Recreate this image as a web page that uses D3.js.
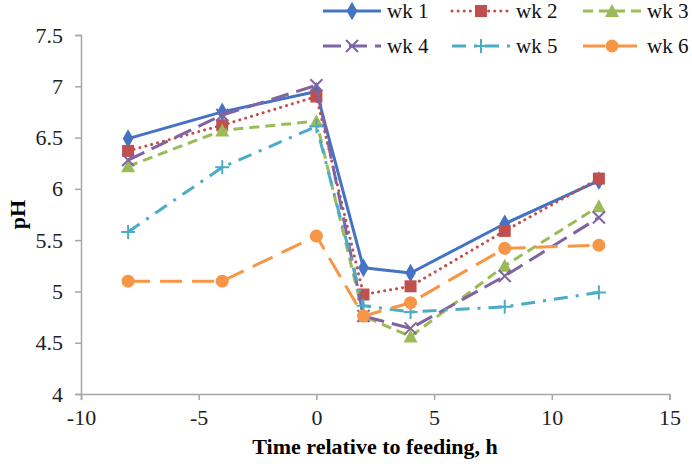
<!DOCTYPE html>
<html><head><meta charset="utf-8">
<script src="https://cdn.jsdelivr.net/npm/d3@7"></script>
<style>body{margin:0;background:#fff;} svg{display:block;}</style>
</head><body>
<svg id="c" width="692" height="464"></svg>
<script>
const times = [-8, -4, 0, 2, 4, 8, 12];
const seriesNames = ["wk 1", "wk 2", "wk 3", "wk 4", "wk 5", "wk 6"];
const wk1 = [6.49, 6.75, 6.95, 5.23, 5.18, 5.66, 6.08];
const wk2 = [6.37, 6.62, 6.90, 4.97, 5.05, 5.59, 6.10];
const wk3 = [6.22, 6.57, 6.66, 4.76, 4.56, 5.25, 5.83];
const wk4 = [6.28, 6.72, 7.01, 4.76, 4.64, 5.15, 5.72];
const wk5 = [5.58, 6.21, 6.61, 4.86, 4.80, 4.85, 4.99];
const wk6 = [5.10, 5.10, 5.54, 4.76, 4.89, 5.42, 5.45];
const xTicks = [-10, -5, 0, 5, 10, 15];
const yTicks = [4, 4.5, 5, 5.5, 6, 6.5, 7, 7.5];

const styles = [
  {color:"#4472C4", dash:null, marker:"diamond", cap:"butt"},
  {color:"#C0504D", dash:"0.1 6", marker:"square", cap:"round"},
  {color:"#9BBB59", dash:"10 6", marker:"triangle", cap:"butt"},
  {color:"#8064A2", dash:"18 8", marker:"x", cap:"butt"},
  {color:"#4BACC6", dash:"14 8 3 8", marker:"plus", cap:"butt"},
  {color:"#F79646", dash:"22 10", marker:"circle", cap:"butt"}
];
const allData = [wk1, wk2, wk3, wk4, wk5, wk6];

const svg = d3.select("#c");
const L = 81, R = 669.5, T = 35, B = 394;
const x = d3.scaleLinear().domain([-10, 15]).range([L, R]);
const y = d3.scaleLinear().domain([4, 7.5]).range([B, T]);
const font = "'Liberation Serif','Times New Roman',serif";
const axisColor = "#A6A6A6";

const xa = svg.append("g").attr("transform", `translate(0,${B})`)
  .call(d3.axisBottom(x).tickValues(xTicks).tickSize(6).tickPadding(8).tickFormat(d => String(d)));
const ya = svg.append("g").attr("transform", `translate(${L},0)`)
  .call(d3.axisLeft(y).tickValues(yTicks).tickSize(6).tickPadding(12).tickFormat(d => String(d)));
[xa, ya].forEach(g => {
  g.attr("font-family", font);
  g.select(".domain").attr("stroke", axisColor).attr("stroke-width", 1.5);
  g.selectAll(".tick line").attr("stroke", axisColor).attr("stroke-width", 1.5);
  g.selectAll("text").attr("fill", "#222").style("font-family", font).style("font-size", "22px");
});
xa.selectAll("text").attr("dy", "0.75em");

svg.append("text").attr("x", 375).attr("y", 454).attr("text-anchor", "middle")
  .style("font-family", font).style("font-size", "22px").style("font-weight", "bold")
  .text("Time relative to feeding, h");
svg.append("text").attr("transform", `translate(25,${(T + B) / 2}) rotate(-90)`).attr("text-anchor", "middle")
  .style("font-family", font).style("font-size", "22px").style("font-weight", "bold")
  .text("pH");

function drawMarker(g, type, cx, cy, color) {
  if (type === "diamond") {
    g.append("path").attr("d", d3.symbol(d3.symbolDiamond, 100)()).attr("transform", `translate(${cx},${cy})`).attr("fill", color);
  } else if (type === "square") {
    g.append("rect").attr("x", cx - 6).attr("y", cy - 6).attr("width", 12).attr("height", 12).attr("fill", color);
  } else if (type === "triangle") {
    g.append("path").attr("d", `M${cx},${cy-7}L${cx+7},${cy+6}L${cx-7},${cy+6}Z`).attr("fill", color);
  } else if (type === "x") {
    g.append("path").attr("d", `M${cx-6},${cy-6}L${cx+6},${cy+6}M${cx+6},${cy-6}L${cx-6},${cy+6}`).attr("stroke", color).attr("stroke-width", 2);
  } else if (type === "plus") {
    g.append("path").attr("d", `M${cx-7},${cy}L${cx+7},${cy}M${cx},${cy-7}L${cx},${cy+7}`).attr("stroke", color).attr("stroke-width", 2);
  } else if (type === "circle") {
    g.append("circle").attr("cx", cx).attr("cy", cy).attr("r", 6.5).attr("fill", color);
  }
}

const line = d3.line().x((d, i) => x(times[i])).y(d => y(d));
allData.forEach((vals, si) => {
  const st = styles[si];
  const g = svg.append("g");
  g.append("path").datum(vals).attr("d", line).attr("fill", "none")
    .attr("stroke", st.color).attr("stroke-width", 3)
    .attr("stroke-dasharray", st.dash).attr("stroke-linecap", st.cap).attr("stroke-linejoin", "round");
  vals.forEach((v, i) => drawMarker(g, st.marker, x(times[i]), y(v), st.color));
});

// legend
const legCols = [323, 452, 583];
const legRows = [11, 46];
seriesNames.forEach((name, i) => {
  const st = styles[i];
  const col = i % 3, row = Math.floor(i / 3);
  const x0 = legCols[col], yy = legRows[row];
  const g = svg.append("g");
  g.append("line").attr("x1", x0).attr("x2", x0 + 58).attr("y1", yy).attr("y2", yy)
    .attr("stroke", st.color).attr("stroke-width", 3)
    .attr("stroke-dasharray", st.dash).attr("stroke-linecap", st.cap);
  drawMarker(g, st.marker, x0 + 29, yy, st.color);
  g.append("text").attr("x", x0 + 64).attr("y", yy + 7)
    .style("font-family", font).style("font-size", "21px").attr("fill", "#111").text(name);
});
</script>
</body></html>
